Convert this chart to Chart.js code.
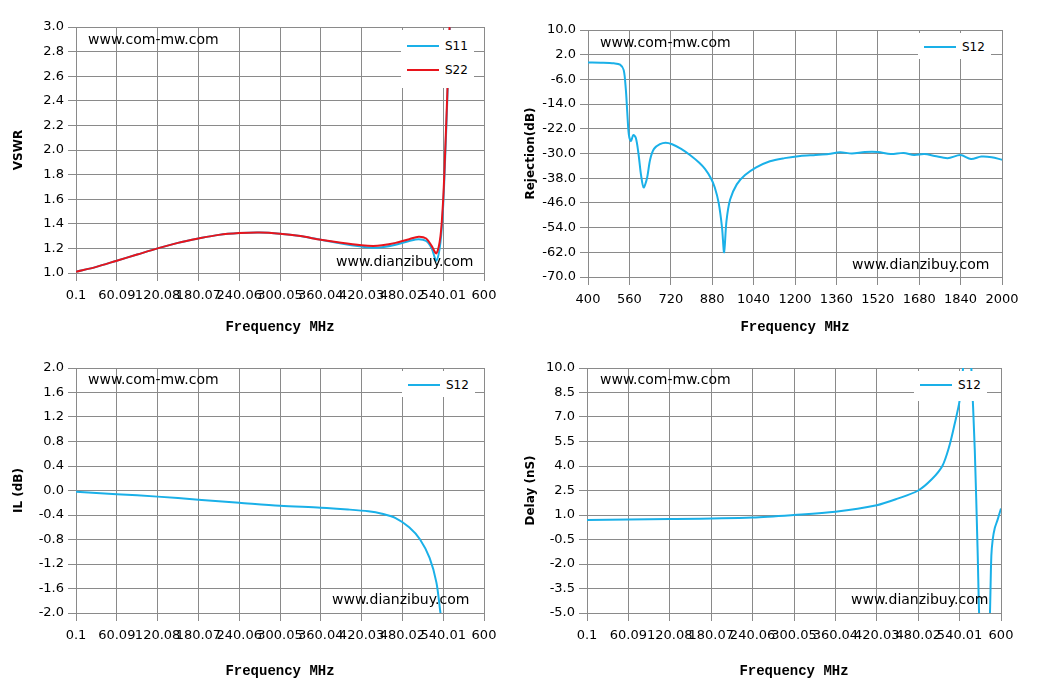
<!DOCTYPE html>
<html><head><meta charset="utf-8">
<script src="https://cdn.jsdelivr.net/npm/chart.js@4/dist/chart.umd.min.js"></script>
<style>
body{margin:0;background:#fff;width:1046px;height:684px;overflow:hidden;position:relative;font-family:"DejaVu Sans",sans-serif}
.c{position:absolute}
.wm{position:absolute;font-family:"DejaVu Sans";font-size:14px;color:#000;background:transparent}
.lg{position:absolute;background:#fff;font-family:"DejaVu Sans";font-size:12px;padding:4px 6px}
.lg div{height:24px;line-height:24px;display:flex;align-items:center}
.lg span{display:inline-block;width:32px;height:2px;margin-right:6px}
</style></head><body>
<div class="c" style="left:0;top:0;width:520px;height:340px"><canvas id="c1"></canvas></div>
<div class="c" style="left:520px;top:0;width:526px;height:340px"><canvas id="c2"></canvas></div>
<div class="c" style="left:0;top:340px;width:520px;height:344px"><canvas id="c3"></canvas></div>
<div class="c" style="left:520px;top:340px;width:526px;height:344px"><canvas id="c4"></canvas></div>

<div class="wm" style="left:88px;top:31px">www.com-mw.com</div>
<div class="wm" style="left:336px;top:253px">www.dianzibuy.com</div>
<div class="wm" style="left:600px;top:34px">www.com-mw.com</div>
<div class="wm" style="left:852px;top:256px">www.dianzibuy.com</div>
<div class="wm" style="left:88px;top:371px">www.com-mw.com</div>
<div class="wm" style="left:332px;top:591px">www.dianzibuy.com</div>
<div class="wm" style="left:600px;top:371px">www.com-mw.com</div>
<div class="wm" style="left:851px;top:591px">www.dianzibuy.com</div>

<div class="lg" style="left:401px;top:30px;height:50px"><div><span style="background:#1ab0e8"></span>S11</div><div><span style="background:#e8141c"></span>S22</div></div>
<div class="lg" style="left:918px;top:33px;height:22px;padding:2px 6px"><div><span style="background:#1ab0e8"></span>S12</div></div>
<div class="lg" style="left:402px;top:371px;height:22px;padding:2px 6px"><div><span style="background:#1ab0e8"></span>S12</div></div>
<div class="lg" style="left:914px;top:371px;height:22px;padding:2px 6px 6px"><div><span style="background:#1ab0e8"></span>S12</div></div>

<script>
const freqTicks=[0.1,60.09,120.08,180.07,240.06,300.05,360.04,420.03,480.02,540.01,600];
const freqTickLabels=["0.1","60.09","120.08","180.07","240.06","300.05","360.04","420.03","480.02","540.01","600"];
const rejTicks=[400,560,720,880,1040,1200,1360,1520,1680,1840,2000];

const vswrF=[0.1,30,60,90,120,150,180,210,240,270,300,330,360,390,420,437,450,470,490,504,515,523,530,536,540,543,546,549,552];
const s11=[1.01,1.05,1.10,1.15,1.20,1.245,1.28,1.31,1.325,1.33,1.32,1.30,1.27,1.24,1.215,1.205,1.21,1.23,1.26,1.275,1.26,1.20,1.10,1.25,1.55,1.95,2.4,2.9,3.3];
const s22=[1.01,1.05,1.10,1.15,1.20,1.245,1.28,1.31,1.325,1.33,1.32,1.30,1.27,1.245,1.225,1.22,1.225,1.245,1.275,1.295,1.28,1.22,1.16,1.30,1.6,2.0,2.45,2.95,3.3];

const rejF=[400,450,500,524,538,546,552,558,566,575,585,595,605,615,628,640,655,678,700,725,760,794,830,852,875,890,905,918,926,935,949,975,1007,1050,1103,1160,1220,1280,1330,1374,1420,1470,1520,1570,1620,1660,1700,1740,1790,1840,1880,1920,1960,2000];
const rejV=[-0.5,-0.6,-0.8,-1.2,-3,-9,-17,-24,-26,-24,-25,-30,-37,-41,-38,-32,-28.5,-27,-26.5,-27,-28.5,-30.5,-33,-35,-38,-41,-46,-54,-62,-52,-45,-40,-37,-34.5,-32.5,-31.5,-30.8,-30.5,-30.2,-29.6,-30,-29.5,-29.5,-30.2,-29.8,-30.5,-30.2,-30.8,-31.5,-30.5,-31.8,-31,-31.2,-32];

const ilF=[0.1,60,120,180,240,300,360,400,430,450,470,490,506,520,530,536,540];
const ilV=[-0.02,-0.06,-0.10,-0.15,-0.20,-0.25,-0.28,-0.31,-0.34,-0.38,-0.45,-0.6,-0.8,-1.1,-1.5,-2.0,-2.3];

const dlF=[0.1,120,240,300,360,420,450,480,500,515,525,533,540,545,549,553,557,562,566,570,576,582,584,586,588,591,595,600];
const dlV=[0.7,0.75,0.85,1.0,1.2,1.6,2.0,2.5,3.2,4.0,5.2,6.6,8.0,10,13,13,10,5,-1,-7,-9,-7,-5,-1.5,-0.5,0.2,0.7,1.4];

const grid={color:'#8a8a8a',lineWidth:1};
const tickFont={family:'DejaVu Sans',size:13};
const titleFont={family:'Liberation Mono',size:14,weight:'bold'};
function xy(xs,ys){return xs.map((x,i)=>({x,y:ys[i]}));}
function mk(id,datasets,x,y,ytitle,pad,yw,xh){
  new Chart(document.getElementById(id),{type:'line',
    data:{datasets:datasets.map((d,i)=>({data:d.data,borderColor:d.c,borderWidth:2,pointRadius:0,tension:0.3,fill:false,order:datasets.length-i}))},
    options:{responsive:true,maintainAspectRatio:false,animation:false,
      layout:{padding:pad},
      plugins:{legend:{display:false},tooltip:{enabled:false}},
      scales:{
        x:{type:'linear',min:x.min,max:x.max,grid:grid,border:{color:'#8a8a8a'},
          afterBuildTicks:s=>{s.ticks=x.ticks.map(v=>({value:v}));},
          ticks:{font:tickFont,color:'#000',maxRotation:0,autoSkip:false,padding:7,callback:(v,i)=>x.labels[i]},
          title:{display:true,text:'Frequency MHz',font:titleFont,color:'#000',padding:{top:8}},
          afterFit:s=>{s.height=xh;}},
        y:{min:y.min,max:y.max,grid:grid,border:{color:'#8a8a8a'},
          afterBuildTicks:s=>{const t=[];for(let v=y.min;v<=y.max+1e-9;v+=y.step)t.push({value:+v.toFixed(3)});s.ticks=t;},
          ticks:{font:tickFont,color:'#000',padding:4,callback:v=>v.toFixed(1)},
          title:{display:true,text:ytitle,font:{family:'DejaVu Sans',size:12,weight:'bold'},color:'#000'},
          afterFit:s=>{s.width=yw;}}
      }}});
}
const fx={min:0.1,max:600,ticks:freqTicks,labels:freqTickLabels};
mk('c1',[{data:xy(vswrF,s11),c:'#1ab0e8'},{data:xy(vswrF,s22),c:'#e8141c'}],fx,{min:1,max:3,step:0.2},'VSWR',{left:8,right:36,top:27,bottom:0},68,67);
mk('c2',[{data:xy(rejF,rejV),c:'#1ab0e8'}],{min:400,max:2000,ticks:rejTicks,labels:rejTicks.map(String)},{min:-70,max:10,step:8},'Rejection(dB)',{left:0,right:44,top:30,bottom:0},68,63);
mk('c3',[{data:xy(ilF,ilV),c:'#1ab0e8'}],fx,{min:-2,max:2,step:0.4},'IL (dB)',{left:8,right:36,top:28,bottom:0},68,71);
mk('c4',[{data:xy(dlF,dlV),c:'#1ab0e8'}],fx,{min:-5,max:10,step:1.5},'Delay (nS)',{left:0,right:45,top:28,bottom:0},67,71);
</script></body></html>
